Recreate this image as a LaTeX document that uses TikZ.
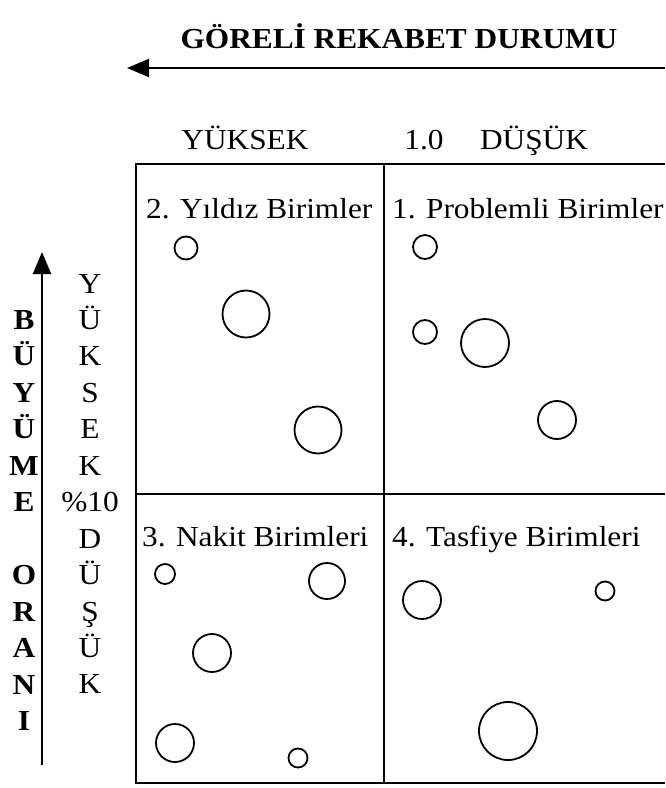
\documentclass[tikz,border=0pt]{standalone}
\usepackage{fontspec}
\setmainfont{Liberation Serif}[FakeStretch=1.08]
\usetikzlibrary{arrows.meta}

\begin{document}
\begin{tikzpicture}[
  x=1pt, y=1pt,
  txt/.style={font=\fontsize{29}{34}\selectfont, inner sep=0pt},
  quad/.style={txt, anchor=base west},
  hlbl/.style={txt, anchor=base},
  vlet/.style={txt, anchor=base},
  bub/.style={circle, draw, line width=1.8pt, inner sep=0pt, minimum size=#1},
  ar/.style={-{Triangle[length=22pt,width=18pt]}, line width=2pt},
  frame/.style={line width=2pt},
]
\useasboundingbox (0,0) rectangle (665,-788);

% top: title and competition axis
\node[hlbl, font=\fontsize{29}{34}\selectfont\bfseries] (title) at (399,-48) {GÖRELİ REKABET DURUMU};
\coordinate (hx0) at (665,-68);
\coordinate (hx1) at (127,-68);
\draw[ar] (hx0) -- (hx1);

\node[hlbl] (hi)  at (245,-149) {YÜKSEK};
\node[hlbl] (mid) at (424,-149) {1.0};
\node[hlbl] (lo)  at (534,-149) {DÜŞÜK};

% left: growth axis
\coordinate (vy0) at (42,-765);
\coordinate (vy1) at (42,-252);
\draw[ar] (vy0) -- (vy1);

\foreach \ch [count=\i] in {B,Ü,Y,Ü,M,E,,O,R,A,N,I}
  \node[vlet, font=\fontsize{29}{34}\selectfont\bfseries] (gr\i) at (24,{-329.5-36.45*(\i-1)}) {\ch};
\foreach \ch [count=\i] in {Y,Ü,K,S,E,K,\%10,D,Ü,Ş,Ü,K}
  \node[vlet] (lv\i) at (90,{-293-36.45*(\i-1)}) {\ch};

% the four cells
\draw[frame] (665,-164) -- (136,-164) -- (136,-783) -- (665,-783);
\draw[frame] (384,-164) -- (384,-783);
\draw[frame] (136,-494) -- (665,-494);

\node[quad] (q2) at (146,-218) {2. Yıldız Birimler};
\node[quad] (q1) at (392,-218) {1. Problemli Birimler};
\node[quad] (q3) at (142,-546) {3. Nakit Birimleri};
\node[quad] (q4) at (392,-546) {4. Tasfiye Birimleri};

% units
\node[bub=23pt] (s1) at (186,-248) {};
\node[bub=47pt] (s2) at (246,-314) {};
\node[bub=47pt] (s3) at (318,-430) {};

\node[bub=24pt] (p1) at (425,-247) {};
\node[bub=24pt] (p2) at (425,-332) {};
\node[bub=48pt] (p3) at (485,-343) {};
\node[bub=38pt] (p4) at (557,-420) {};

\node[bub=20pt] (n1) at (165,-574) {};
\node[bub=36pt] (n2) at (327,-581) {};
\node[bub=38pt] (n3) at (212,-653) {};
\node[bub=38pt] (n4) at (175,-743) {};
\node[bub=19pt] (n5) at (298,-758) {};

\node[bub=38pt] (t1) at (422,-600) {};
\node[bub=19pt] (t2) at (605,-591) {};
\node[bub=58pt] (t3) at (508,-731) {};
\end{tikzpicture}
\end{document}
